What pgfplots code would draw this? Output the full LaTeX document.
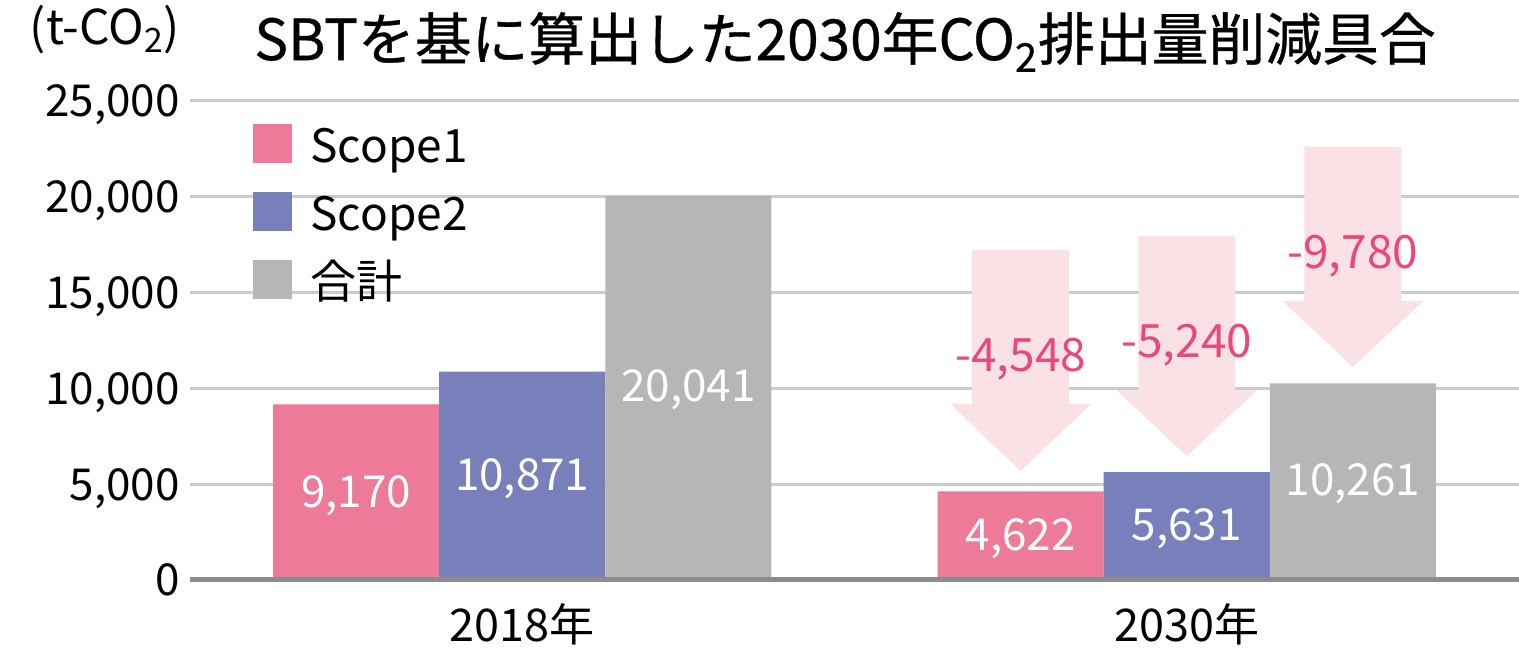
\documentclass[border=0pt]{standalone}
\usepackage{pgfplots}
\pgfplotsset{compat=1.18}
\usepackage{fontspec}
\setmainfont{Noto Sans CJK JP}
\newfontfamily\titlefont[FakeBold=0.6]{Noto Sans CJK JP}
\definecolor{cSa}{HTML}{EC7A98}
\definecolor{cSb}{HTML}{7880BC}
\definecolor{cTot}{HTML}{B5B6B5}
\definecolor{cArrow}{HTML}{FAE1E6}
\definecolor{cRed}{HTML}{E8497A}
\definecolor{cGrid}{HTML}{CBCBCB}
\definecolor{cBase}{HTML}{8C8C8C}
\begin{document}
\begin{tikzpicture}
\begin{axis}[
  scale only axis, width=664.5pt, height=239.5pt,
  xmin=-0.5, xmax=1.5, ymin=0, ymax=25000,
  ytick={0,5000,10000,15000,20000,25000},
  xtick={0,1}, xticklabels={2018年,2030年},
  major tick length=0pt,
  axis line style={draw=none},
  ymajorgrids, grid style={cGrid, line width=1.5pt},
  /pgf/number format/assume math mode=true,
  /pgf/number format/1000 sep={,},
  scaled y ticks=false,
  yticklabel style={font=\fontsize{22}{26}\selectfont, anchor=base east, inner sep=0pt, xshift=-5pt, yshift=-8pt},
  xticklabel style={font=\fontsize{22.5}{26}\selectfont, anchor=base, inner sep=0pt, yshift=-31pt},
  clip=false,
  legend style={at={(rel axis cs:0,1)}, anchor=north west, xshift=31.5pt, yshift=-11pt,
    draw=none, fill=none, inner sep=0pt, font=\fontsize{23}{28}\selectfont,
    row sep=9.5pt, column sep=9pt,
    nodes={inner sep=0pt, text height=19.5pt, text depth=5pt}},
  legend cell align=left,
  legend image code/.code={\fill[#1] (0pt,-7.5pt) rectangle (19.5pt,12pt);},
]
\addplot[ybar, bar width=0.25, bar shift=-0.25, fill=cSa, draw=none] coordinates {(0,9170) (1,4622)};
\addlegendentry{Scope1}
\addplot[ybar, bar width=0.25, bar shift=0, fill=cSb, draw=none] coordinates {(0,10871) (1,5631)};
\addlegendentry{Scope2}
\addplot[ybar, bar width=0.25, bar shift=0.25, fill=cTot, draw=none] coordinates {(0,20041) (1,10261)};
\addlegendentry{合計}
% reduction arrows
\addplot[forget plot, draw=none, fill=cArrow] coordinates {(0.677,17223) (0.823,17223) (0.823,9186) (0.856,9186) (0.75,5689) (0.644,9186) (0.677,9186)};
\addplot[forget plot, draw=none, fill=cArrow] coordinates {(0.927,17954) (1.073,17954) (1.073,9916) (1.106,9916) (1.0,6472) (0.894,9916) (0.927,9916)};
\addplot[forget plot, draw=none, fill=cArrow] coordinates {(1.177,22599) (1.323,22599) (1.323,14562) (1.356,14562) (1.25,11117) (1.144,14562) (1.177,14562)};
% value labels
\begin{scope}[every node/.style={font=\fontsize{22}{26}\selectfont, text=white, inner sep=0pt}]
\node at (axis cs:-0.25,4400) {9,170};
\node at (axis cs:0,5300) {10,871};
\node at (axis cs:0.25,9950) {20,041};
\node at (axis cs:0.75,2150) {4,622};
\node at (axis cs:1,2680) {5,631};
\node at (axis cs:1.25,5000) {10,261};
\end{scope}
\begin{scope}[every node/.style={font=\fontsize{23}{27}\selectfont, text=cRed, inner sep=0pt}]
\node at (axis cs:0.75,11500) {-4,548};
\node at (axis cs:1,12230) {-5,240};
\node at (axis cs:1.25,16900) {-9,780};
\end{scope}
\draw[cBase, line width=2.5pt] (rel axis cs:0,0) -- (rel axis cs:1,0);
\end{axis}
\node[font=\titlefont\fontsize{28.4}{32}\selectfont, inner sep=0pt] at (327.5pt,269pt) {SBTを基に算出した2030年CO\textsubscript{2}排出量削減具合};
\node[font=\fontsize{24}{28}\selectfont, inner sep=0pt] at (-42.5pt,275pt) {(t-CO\textsubscript{2})};
\pgfresetboundingbox
\path[use as bounding box] (-95pt,-38.5pt) rectangle (664.5pt,290pt);
\end{tikzpicture}
\end{document}
